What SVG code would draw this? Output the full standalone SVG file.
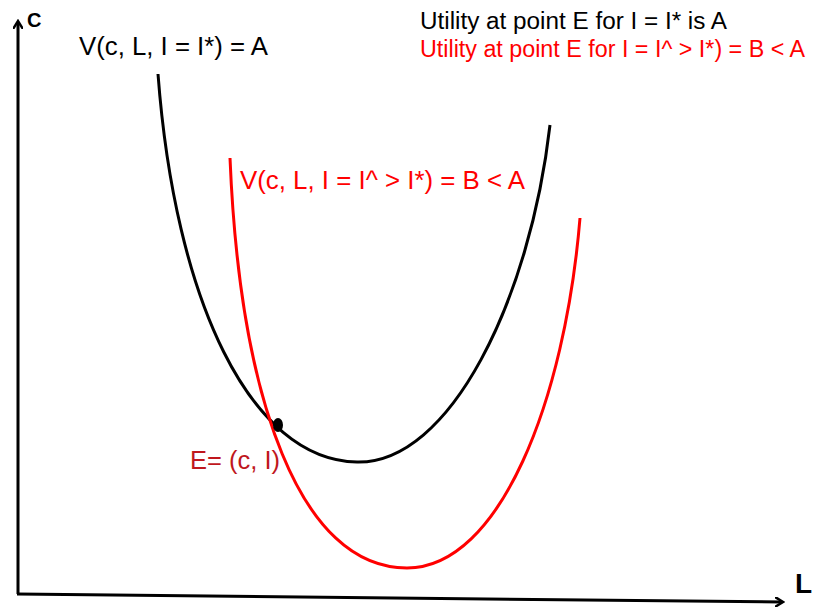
<svg xmlns="http://www.w3.org/2000/svg" width="818" height="611" viewBox="0 0 818 611">
<style>
.t{font-family:"Liberation Sans",Arial,sans-serif}
.ax{stroke:#000;stroke-width:3;fill:none}
.crv{fill:none;stroke-width:3}
</style>
<defs>
<marker id="ah" markerWidth="10" markerHeight="10" refX="7" refY="5" orient="auto" markerUnits="userSpaceOnUse">
<path d="M0,0 L8,5 L0,10" fill="none" stroke="#000" stroke-width="2.5"/>
</marker>
</defs>
<rect width="818" height="611" fill="#fff"/>
<g id="connectors">
<path class="ax" d="M18,594 L18,22" marker-end="url(#ah)"/>
<path class="ax" d="M17,594 L782,602" marker-end="url(#ah)"/>
</g>
<g id="axis-labels">
<text class="t" x="27" y="27" font-size="20" font-weight="bold">C</text>
<text class="t" x="795" y="593" font-size="28" font-weight="bold">L</text>
</g>
<g id="curve-A">
<path class="crv" stroke="#000" d="M158,74 C175,300 250,460 357,462 C450,464 530,300 550,125"/>
<text class="t" x="79" y="55" font-size="26" textLength="189" lengthAdjust="spacingAndGlyphs">V(c, L, I = I*) = A</text>
</g>
<g id="curve-B">
<path class="crv" stroke="#f00" d="M230,158 C240,400 300,568 407,568 C500,568 565,400 580,218"/>
<text class="t" x="240" y="189" font-size="25.5" fill="#f00" textLength="285" lengthAdjust="spacingAndGlyphs">V(c, L, I = I^ &gt; I*) = B &lt; A</text>
</g>
<g id="point-E">
<ellipse cx="278" cy="425" rx="5" ry="7" fill="#000"/>
<text class="t" x="190" y="469" font-size="25" fill="#c0171d" textLength="90" lengthAdjust="spacingAndGlyphs">E= (c, I)</text>
</g>
<g id="legend">
<text class="t" x="420" y="29" font-size="23" textLength="307" lengthAdjust="spacingAndGlyphs">Utility at point E for I = I* is A</text>
<text class="t" x="420" y="57" font-size="23" fill="#f00" textLength="385" lengthAdjust="spacingAndGlyphs">Utility at point E for I = I^ &gt; I*) = B &lt; A</text>
</g>
</svg>
